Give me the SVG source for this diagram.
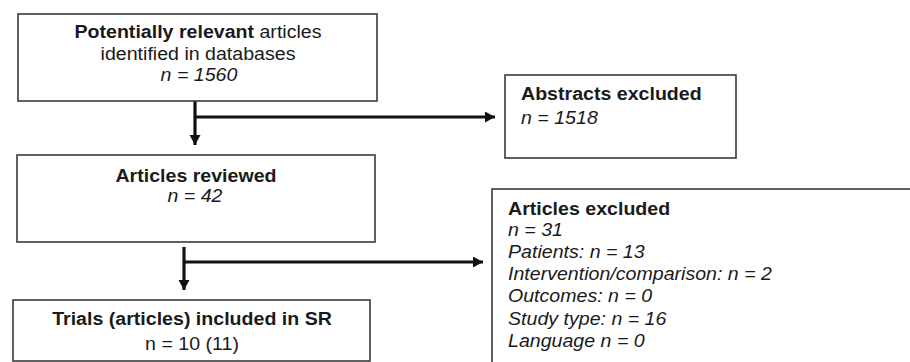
<svg xmlns="http://www.w3.org/2000/svg" width="910" height="362" viewBox="0 0 910 362">
<style>
.box{fill:#fff;stroke:#3a3a3a;stroke-width:1.6}
.t{font-family:"Liberation Sans",Arial,sans-serif;font-size:17.5px;fill:#1a1a1a}
.b{font-weight:bold}
.i{font-style:italic}
.c{stroke:#111;stroke-width:3.2;fill:none}
</style>
<defs>
<marker id="ah" markerUnits="userSpaceOnUse" markerWidth="12" markerHeight="12" refX="10" refY="5.5" orient="auto">
<path d="M0,0 L10,5.5 L0,11 Z" fill="#111"/>
</marker>
</defs>
<rect width="910" height="362" fill="#fff"/>
<g id="connectors">
<path class="c" d="M195,101 V145" marker-end="url(#ah)"/>
<path class="c" d="M195,117 H495" marker-end="url(#ah)"/>
<path class="c" d="M184,247 V290" marker-end="url(#ah)"/>
<path class="c" d="M184,262 H483" marker-end="url(#ah)"/>
</g>
<g id="identified">
<rect class="box" x="18" y="14" width="359" height="87"/>
<text class="t" text-anchor="middle" transform="translate(198,38) scale(1.12 1)"><tspan class="b">Potentially relevant</tspan> articles</text>
<text class="t" text-anchor="middle" transform="translate(198,60) scale(1.12 1)">identified in databases</text>
<text class="t i" text-anchor="middle" transform="translate(199,81) scale(1.12 1)">n = 1560</text>
</g>
<g id="abstracts-excluded">
<rect class="box" x="505" y="75" width="231" height="83"/>
<text class="t b" transform="translate(521,100) scale(1.12 1)">Abstracts excluded</text>
<text class="t i" transform="translate(521,124) scale(1.12 1)">n = 1518</text>
</g>
<g id="reviewed">
<rect class="box" x="17" y="155" width="358" height="87"/>
<text class="t b" text-anchor="middle" transform="translate(196,182) scale(1.12 1)">Articles reviewed</text>
<text class="t i" text-anchor="middle" transform="translate(195,202) scale(1.12 1)">n = 42</text>
</g>
<g id="articles-excluded">
<rect class="box" x="492" y="189" width="425" height="185"/>
<text class="t b" transform="translate(508,215) scale(1.12 1)">Articles excluded</text>
<text class="t i" transform="translate(508,236) scale(1.12 1)">n = 31</text>
<text class="t i" transform="translate(508,258) scale(1.12 1)">Patients: n = 13</text>
<text class="t i" transform="translate(508,280) scale(1.12 1)">Intervention/comparison: n = 2</text>
<text class="t i" transform="translate(508,302) scale(1.12 1)">Outcomes: n = 0</text>
<text class="t i" transform="translate(508,325) scale(1.12 1)">Study type: n = 16</text>
<text class="t i" transform="translate(508,347) scale(1.12 1)">Language n = 0</text>
</g>
<g id="included">
<rect class="box" x="13" y="300" width="357" height="61"/>
<text class="t b" text-anchor="middle" transform="translate(192,325) scale(1.12 1)">Trials (articles) included in SR</text>
<text class="t" text-anchor="middle" transform="translate(192,350) scale(1.12 1)">n = 10 (11)</text>
</g>
</svg>
